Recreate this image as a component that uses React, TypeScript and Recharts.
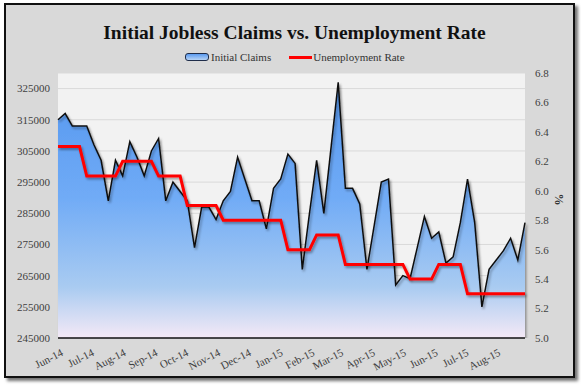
import React from "react";
import { ComposedChart, Area, Line, XAxis, YAxis, CartesianGrid } from "recharts";

// week-ending dates of the weekly claims report
const weeks = [
  "2014-05-31", "2014-06-07", "2014-06-14", "2014-06-21", "2014-06-28",
  "2014-07-05", "2014-07-12", "2014-07-19", "2014-07-26", "2014-08-02",
  "2014-08-09", "2014-08-16", "2014-08-23", "2014-08-30", "2014-09-06",
  "2014-09-13", "2014-09-20", "2014-09-27", "2014-10-04", "2014-10-11",
  "2014-10-18", "2014-10-25", "2014-11-01", "2014-11-08", "2014-11-15",
  "2014-11-22", "2014-11-29", "2014-12-06", "2014-12-13", "2014-12-20",
  "2014-12-27", "2015-01-03", "2015-01-10", "2015-01-17", "2015-01-24",
  "2015-01-31", "2015-02-07", "2015-02-14", "2015-02-21", "2015-02-28",
  "2015-03-07", "2015-03-14", "2015-03-21", "2015-03-28", "2015-04-04",
  "2015-04-11", "2015-04-18", "2015-04-25", "2015-05-02", "2015-05-09",
  "2015-05-16", "2015-05-23", "2015-05-30", "2015-06-06", "2015-06-13",
  "2015-06-20", "2015-06-27", "2015-07-04", "2015-07-11", "2015-07-18",
  "2015-07-25", "2015-08-01", "2015-08-08", "2015-08-15", "2015-08-22",
  "2015-08-29",
];

const initialClaims = [
  315000, 317000, 313000, 313000, 313000, 307000, 302000, 289000, 302000, 297000,
  308000, 303000, 297000, 305000, 309000, 289000, 295000, 292000, 289000, 274000,
  287000, 287000, 283000, 289000, 292000, 303000, 296000, 289000, 289000, 280000,
  293000, 296000, 304000, 301000, 267000, 285000, 302000, 285000, 306000, 327000,
  293000, 293000, 288000, 267000, 281000, 295000, 296000, 262000, 265000, 264000,
  274000, 284000, 277000, 279000, 269000, 271000, 282000, 296000, 282000, 255000,
  267000, 270000, 273000, 277000, 270000, 282000,
];

const unemploymentRate = [
  6.3, 6.3, 6.3, 6.3, 6.1, 6.1, 6.1, 6.1, 6.1, 6.2,
  6.2, 6.2, 6.2, 6.2, 6.1, 6.1, 6.1, 6.1, 5.9, 5.9,
  5.9, 5.9, 5.9, 5.8, 5.8, 5.8, 5.8, 5.8, 5.8, 5.8,
  5.8, 5.8, 5.6, 5.6, 5.6, 5.6, 5.7, 5.7, 5.7, 5.7,
  5.5, 5.5, 5.5, 5.5, 5.5, 5.5, 5.5, 5.5, 5.5, 5.4,
  5.4, 5.4, 5.4, 5.5, 5.5, 5.5, 5.5, 5.3, 5.3, 5.3,
  5.3, 5.3, 5.3, 5.3, 5.3, 5.3,
];

const monthTicks = [
  "2014-06-01", "2014-07-01", "2014-08-01", "2014-09-01", "2014-10-01",
  "2014-11-01", "2014-12-01", "2015-01-01", "2015-02-01", "2015-03-01",
  "2015-04-01", "2015-05-01", "2015-06-01", "2015-07-01", "2015-08-01",
];
const monthLabels = [
  "Jun-14", "Jul-14", "Aug-14", "Sep-14", "Oct-14", "Nov-14", "Dec-14", "Jan-15",
  "Feb-15", "Mar-15", "Apr-15", "May-15", "Jun-15", "Jul-15", "Aug-15",
];
const claimTicks = [245000, 255000, 265000, 275000, 285000, 295000, 305000, 315000, 325000];
const rateTicks = [5.0, 5.2, 5.4, 5.6, 5.8, 6.0, 6.2, 6.4, 6.6, 6.8];

const data = weeks.map((w, i) => ({
  t: Date.parse(w),
  claims: initialClaims[i],
  rate: unemploymentRate[i],
}));
const tickTimes = monthTicks.map((d) => Date.parse(d));

const FONT = "'Liberation Serif', 'DejaVu Serif', serif";
const TICK = { fill: "#404040", fontSize: 11, fontFamily: FONT };

function MonthTick(props: any) {
  const { x, y, payload } = props;
  const label = monthLabels[tickTimes.indexOf(payload.value)];
  const tx = x + 5;
  const ty = y + 9;
  return (
    <text
      x={tx}
      y={ty}
      textAnchor="end"
      transform={`rotate(-27 ${tx} ${ty})`}
      fill="#404040"
      fontSize={11}
      fontFamily={FONT}
    >
      {label}
    </text>
  );
}

export default function App() {
  return (
    <div style={{ position: "absolute", left: 0, top: 0, width: 581, height: 385, background: "#fff" }}>
      <div
        style={{
          position: "absolute",
          left: 4,
          top: 3,
          width: 567,
          height: 371,
          border: "2px solid #111",
          background: "#d9d9d9",
          boxShadow: "3px 3px 3px rgba(0,0,0,0.55)",
        }}
      />
      <div
        style={{
          position: "absolute",
          left: 4,
          top: 22,
          width: 581,
          textAlign: "center",
          fontFamily: FONT,
          fontWeight: "bold",
          fontSize: 19.5,
          color: "#111",
        }}
      >
        Initial Jobless Claims vs. Unemployment Rate
      </div>
      <div
        style={{
          position: "absolute",
          left: 185,
          top: 51,
          display: "flex",
          alignItems: "center",
          fontFamily: FONT,
          fontSize: 11,
          color: "#333",
        }}
      >
        <span
          style={{
            display: "inline-block",
            width: 22,
            height: 6,
            border: "1px solid #1f2d4a",
            borderRadius: 3,
            background: "linear-gradient(#5b9bf0, #b8d4f5)",
            marginRight: 2,
          }}
        />
        <span>Initial Claims</span>
        <span
          style={{ display: "inline-block", width: 23, height: 3, background: "#ff0000", marginLeft: 18, marginRight: 1 }}
        />
        <span>Unemployment Rate</span>
      </div>
      <div style={{ position: "absolute", left: 0, top: 0 }}>
        <ComposedChart width={581} height={385} data={data} margin={{ top: 73, right: 10, bottom: 7, left: 0 }}>
          <defs>
            <linearGradient id="claimsFill" x1="0" y1="0" x2="0" y2="1">
              <stop offset="0%" stopColor="#5597ef" />
              <stop offset="45%" stopColor="#70abf6" />
              <stop offset="80%" stopColor="#a9cbf1" />
              <stop offset="100%" stopColor="#f4e9f6" />
            </linearGradient>
            <filter id="shade" x="-5%" y="-5%" width="110%" height="120%">
              <feDropShadow dx="1.5" dy="2" stdDeviation="1" floodColor="#000" floodOpacity="0.35" />
            </filter>
          </defs>
          <CartesianGrid yAxisId="left" vertical={false} stroke="#d9d9d9" fill="#f2f2f2" />
          <XAxis
            dataKey="t"
            type="number"
            domain={[data[0].t, data[data.length - 1].t]}
            ticks={tickTimes}
            tick={<MonthTick />}
            tickLine={false}
            axisLine={{ stroke: "#111", strokeWidth: 1.5 }}
            height={40}
            interval={0}
          />
          <YAxis
            yAxisId="left"
            domain={[245000, 330000]}
            ticks={claimTicks}
            allowDataOverflow
            tick={TICK}
            tickLine={false}
            axisLine={false}
            width={58}
            interval={0}
          />
          <YAxis
            yAxisId="right"
            orientation="right"
            domain={[5, 6.8]}
            ticks={rateTicks}
            tickFormatter={(v: number) => v.toFixed(1)}
            allowDataOverflow
            tick={TICK}
            tickLine={false}
            axisLine={false}
            tickMargin={4}
            width={46}
            interval={0}
            label={{ value: "%", angle: 90, position: "insideRight", offset: 12, fill: "#333", fontSize: 12, fontFamily: FONT, fontWeight: "bold" }}
          />
          <Area
            yAxisId="left"
            type="linear"
            dataKey="claims"
            stroke="#111"
            strokeWidth={1.5}
            fill="url(#claimsFill)"
            fillOpacity={1}
            filter="url(#shade)"
            isAnimationActive={false}
          />
          <Line
            yAxisId="right"
            type="linear"
            dataKey="rate"
            stroke="#ff0000"
            strokeWidth={3}
            dot={false}
            filter="url(#shade)"
            isAnimationActive={false}
          />
        </ComposedChart>
      </div>
    </div>
  );
}
